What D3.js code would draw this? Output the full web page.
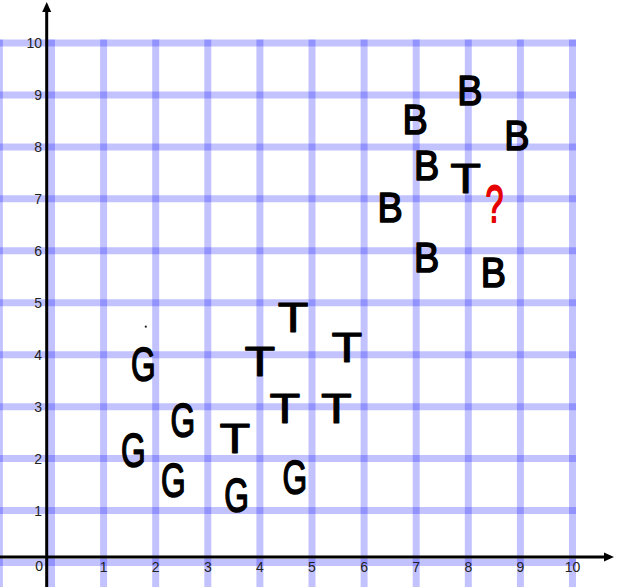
<!DOCTYPE html>
<html>
<head>
<meta charset="utf-8">
<script src="https://cdn.jsdelivr.net/npm/d3@7"></script>
<style>
  html, body { margin: 0; padding: 0; background: #fff; }
  svg { display: block; }
</style>
</head>
<body>
<svg id="chart" width="631" height="587"></svg>
<script>
// ---- data ----
const tickValues = [1, 2, 3, 4, 5, 6, 7, 8, 9, 10];
const originLabel = "0";

const gX = [1.76, 2.52, 1.57, 2.34, 3.55, 4.67];
const gY = [3.83, 2.74, 2.17, 1.59, 1.30, 1.65];

const tX = [4.64, 4.00, 5.67, 4.48, 5.47, 3.52, 7.95];
const tY = [4.73, 3.87, 4.15, 2.97, 2.97, 2.40, 7.40];

const bX = [8.03, 6.98, 8.93, 7.20, 6.50, 7.20, 8.48];
const bY = [9.10, 8.55, 8.23, 7.65, 6.85, 5.89, 5.60];

const qX = [8.50];
const qY = [6.91];

const speckX = [1.81];
const speckY = [4.54];

// ---- layout ----
const W = 631, H = 587;
const x = d3.scaleLinear().domain([0, 10]).range([51.5, 572.5]);
const y = d3.scaleLinear().domain([0, 10]).range([562.5, 43]);
const svg = d3.select("#chart");

const gridW = 7, half = gridW / 2;
const gridColor = "rgba(0,0,255,0.24)";

// vertical grid lines (x = -1 .. 10)
const vLines = d3.range(-1, 11);
svg.append("g").selectAll("line").data(vLines).join("line")
  .attr("x1", d => x(d)).attr("x2", d => x(d))
  .attr("y1", y(10) - half).attr("y2", H)
  .attr("stroke", gridColor).attr("stroke-width", gridW);

// horizontal grid lines (y = 0 .. 10)
const hLines = d3.range(0, 11);
svg.append("g").selectAll("line").data(hLines).join("line")
  .attr("y1", d => y(d)).attr("y2", d => y(d))
  .attr("x1", x(-1)).attr("x2", x(10) + half)
  .attr("stroke", gridColor).attr("stroke-width", gridW);

// black axes offset from grid origin
const axX = x(0) - 4.8;
const axY = y(0) - 5.5;
const axes = svg.append("g");
axes.append("line").attr("x1", 0).attr("x2", 606).attr("y1", axY).attr("y2", axY)
  .attr("stroke", "#000").attr("stroke-width", 3);
axes.append("path").attr("d", `M604,${axY - 4.5} L614,${axY} L604,${axY + 4.5} Z`).attr("fill", "#000");
axes.append("line").attr("x1", axX).attr("x2", axX).attr("y1", H).attr("y2", 10)
  .attr("stroke", "#000").attr("stroke-width", 3);
axes.append("path").attr("d", `M${axX - 4.5},12 L${axX},2 L${axX + 4.5},12 Z`).attr("fill", "#000");

// tick labels
const lbl = svg.append("g").attr("font-family", "'Liberation Sans', Arial, sans-serif")
  .attr("font-size", 14).attr("fill", "#222");
lbl.selectAll("text.yl").data(tickValues).join("text").attr("class", "yl")
  .attr("x", 42).attr("y", d => y(d) + 5).attr("text-anchor", "end").text(d => d);
lbl.selectAll("text.xl").data(tickValues).join("text").attr("class", "xl")
  .attr("x", d => x(d)).attr("y", 572).attr("text-anchor", "middle").text(d => d);
lbl.append("text").attr("x", axX - 7.5).attr("y", 571).attr("text-anchor", "middle").text(originLabel);

// letter markers
const styles = {
  G: { fs: 48, sx: 0.66, fill: "#000", sw: 1.6 },
  T: { fs: 42, sx: 1.2, fill: "#000", sw: 1.0 },
  B: { fs: 43, sx: 0.88, fill: "#000", sw: 1.6 },
  "?": { fs: 52, sx: 0.62, fill: "#e60000", sw: 1.8 }
};
function drawLetters(ch, xs, ys) {
  const s = styles[ch];
  const pts = xs.map((v, i) => ({ x: v, y: ys[i] }));
  svg.append("g").selectAll("g").data(pts).join("g")
    .attr("transform", d => `translate(${x(d.x)},${y(d.y)}) scale(${s.sx},1)`)
    .append("text")
    .attr("x", 0).attr("y", s.fs * 0.716 / 2)
    .attr("text-anchor", "middle")
    .attr("font-family", "'Liberation Sans', Arial, sans-serif")
    .attr("font-size", s.fs)
    .attr("fill", s.fill)
    .attr("stroke", s.fill).attr("stroke-width", s.sw)
    .attr("stroke-linejoin", "round")
    .text(ch);
}
drawLetters("G", gX, gY);
drawLetters("T", tX, tY);
drawLetters("B", bX, bY);
drawLetters("?", qX, qY);

// stray speck
svg.append("g").selectAll("circle").data(speckX.map((v, i) => ({ x: v, y: speckY[i] })))
  .join("circle").attr("cx", d => x(d.x)).attr("cy", d => y(d.y)).attr("r", 1.1).attr("fill", "#222");
</script>
</body>
</html>
